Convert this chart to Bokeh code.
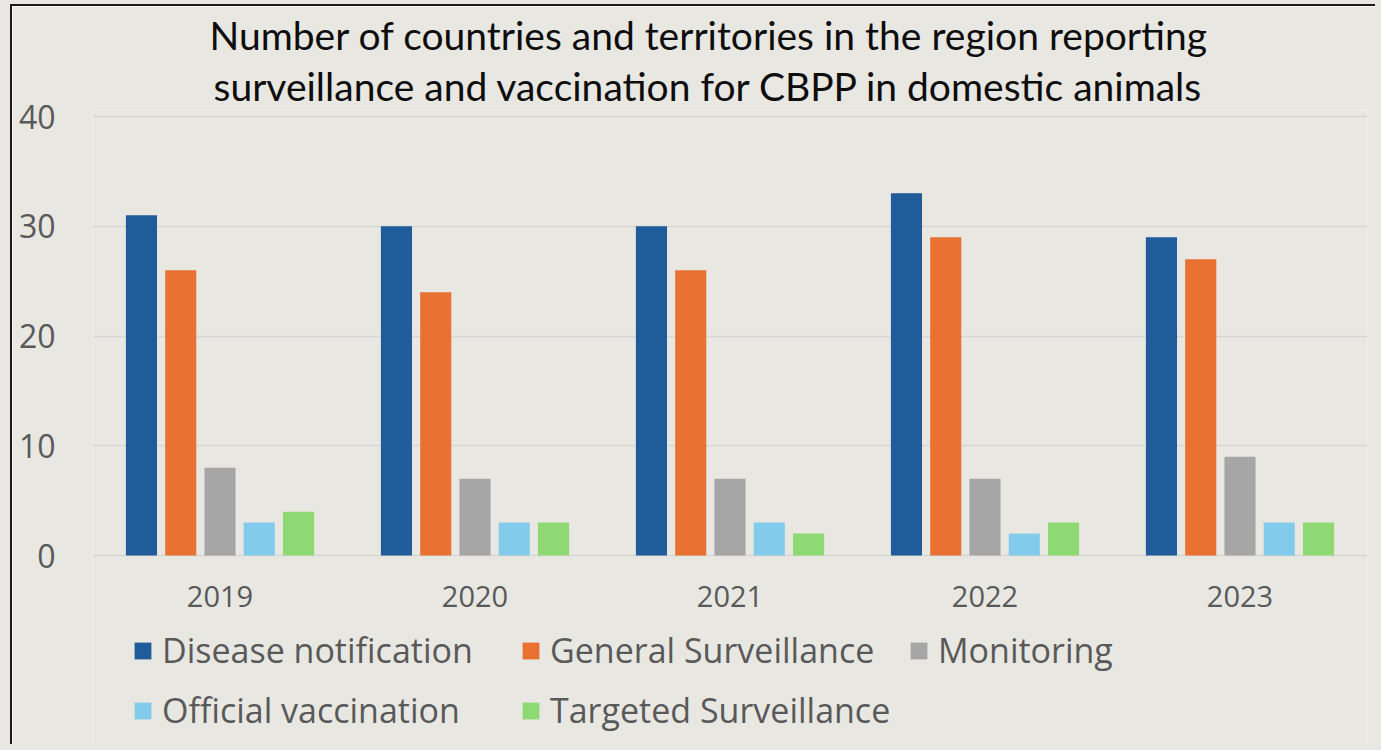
from bokeh.plotting import figure
from bokeh.models import (FactorRange, ColumnDataSource, Legend, LegendItem,
                          Title, FixedTicker, Range1d)
from bokeh.transform import dodge
from bokeh.embed import file_html
from bokeh.resources import INLINE

# ---- data ----
years = ["2019", "2020", "2021", "2022", "2023"]
series_names = ["Disease notification", "General Surveillance", "Monitoring",
                "Official vaccination", "Targeted Surveillance"]
disease_notification = [31, 30, 30, 33, 29]
general_surveillance = [26, 24, 26, 29, 27]
monitoring = [8, 7, 7, 7, 9]
official_vaccination = [3, 3, 3, 2, 3]
targeted_surveillance = [4, 3, 2, 3, 3]
y_ticks = [0, 10, 20, 30, 40]
title_lines = ["Number of countries and territories in the region reporting",
               "surveillance and vaccination for CBPP in domestic animals"]

# ---- styles ----
colors = ["#1F5C99", "#E97132", "#A6A6A6", "#83CBEB", "#8ED973"]
bg = "#E8E7E1"
txt = "#595959"
FONT = "Open Sans"

source = ColumnDataSource(dict(
    year=years,
    s0=disease_notification,
    s1=general_surveillance,
    s2=monitoring,
    s3=official_vaccination,
    s4=targeted_surveillance,
))

W, H = 1365, 740
# the frame reaches down to the canvas bottom so the legend can sit inside it
p = figure(x_range=FactorRange(*years), y_range=Range1d(-17.4, 40.64),
           width=W, height=H, output_backend="svg", toolbar_location=None,
           min_border_left=80, min_border_right=10, min_border_top=103,
           min_border_bottom=0)
p.styles = {"border-left": "2px solid #1a1a1a", "border-top": "2px solid #1a1a1a",
            "margin-left": "10px", "margin-top": "4px",
            "box-shadow": "0 0 0 14px " + bg}
p.background_fill_color = bg
p.border_fill_color = bg
p.outline_line_color = None

offsets = [-0.308, -0.154, 0.0, 0.154, 0.308]
bar_w = 0.122
items = []
for i, name in enumerate(series_names):
    r = p.vbar(x=dodge("year", offsets[i], range=p.x_range), top="s%d" % i,
               width=bar_w, source=source, fill_color=colors[i], line_color=None)
    items.append(LegendItem(label=name, renderers=[r]))

# axes
p.yaxis.ticker = FixedTicker(ticks=y_ticks)
p.yaxis.axis_line_color = None
p.yaxis.major_tick_line_color = None
p.yaxis.minor_tick_line_color = None
p.yaxis.major_tick_out = 0
p.yaxis.major_label_standoff = 37
p.yaxis.major_label_text_font = FONT
p.yaxis.major_label_text_font_size = "32px"
p.yaxis.major_label_text_color = txt

p.xaxis.fixed_location = 0
p.xaxis.axis_line_color = None
p.xaxis.major_tick_line_color = None
p.xaxis.minor_tick_line_color = None
p.xaxis.major_tick_out = 0
p.xaxis.major_label_standoff = 30
p.xaxis.major_label_text_font = FONT
p.xaxis.major_label_text_font_size = "29px"
p.xaxis.major_label_text_color = txt

p.xgrid.grid_line_color = None
p.ygrid.ticker = FixedTicker(ticks=y_ticks)
p.ygrid.grid_line_color = "#D6D6D6"
p.ygrid.grid_line_width = 1.6

# title: two lines in the above panel (second line added first = closest to plot)
for line, off, so in reversed(list(zip(title_lines, [117, 121], [3, 2]))):
    p.add_layout(Title(text=line, align="left", offset=off, text_font="Lato",
                       text_font_size="39px", text_font_style="normal",
                       text_color="#0D0D0D", standoff=so), "above")

legend = Legend(items=items, location=(40, 13), orientation="horizontal",
                ncols=3, padding=0, margin=0, spacing=14,
                glyph_width=21, glyph_height=21, label_standoff=9,
                label_width=344, label_height=40,
                label_text_font=FONT, label_text_font_size="34px",
                label_text_color=txt, background_fill_alpha=0,
                border_line_alpha=0)
p.add_layout(legend, "center")

open("out.html", "w").write(file_html(p, INLINE))
